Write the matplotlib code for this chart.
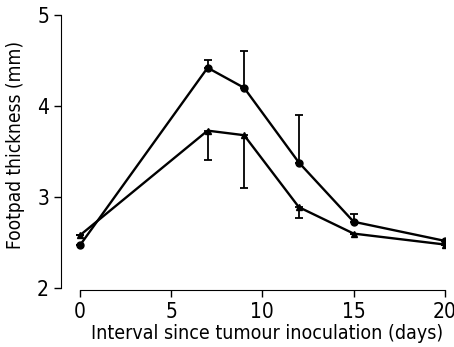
import matplotlib
matplotlib.use("Agg")
import matplotlib.pyplot as plt

days = [0, 7, 9, 12, 15, 20]
circle_mean = [2.47, 4.42, 4.20, 3.38, 2.73, 2.52]
circle_err_up = [0, 0.08, 0.40, 0.52, 0.09, 0]
tri_mean = [2.58, 3.73, 3.68, 2.89, 2.60, 2.48]
tri_err_down = [0, 0.32, 0.58, 0.12, 0, 0]

xticks = [0, 5, 10, 15, 20]
yticks = [2, 3, 4, 5]

plt.rcParams['font.family'] = ['DejaVu Sans']
plt.rcParams['font.stretch'] = 'condensed'

fig = plt.figure(figsize=(4.54, 3.47), dpi=100)
ax = fig.add_axes([0.134, 0.164, 0.846, 0.793])

ax.errorbar(days, circle_mean, yerr=[[0] * len(days), circle_err_up],
            color='black', marker='o', markersize=5, linewidth=1.7,
            elinewidth=1.3, capsize=3, capthick=1.3)
ax.errorbar(days, tri_mean, yerr=[tri_err_down, [0] * len(days)],
            color='black', marker='^', markersize=5, linewidth=1.7,
            elinewidth=1.3, capsize=3, capthick=1.3)

ax.set_xlim(-1.04, 20)
ax.set_ylim(1.98, 5)
ax.spines['top'].set_visible(False)
ax.spines['right'].set_visible(False)
ax.spines['left'].set_bounds(2, 5)
ax.spines['bottom'].set_bounds(0, 20)
ax.set_xticks(xticks)
ax.set_yticks(yticks)
ax.tick_params(labelsize=15, length=5, width=1)
ax.set_xlabel("Interval since tumour inoculation (days)", fontsize=14)
ax.set_ylabel("Footpad thickness (mm)", fontsize=13.7)
ax.xaxis.set_label_coords(0.537, -0.122)
ax.yaxis.set_label_coords(-0.094, 0.527)

fig.savefig("out.png", dpi=100)
